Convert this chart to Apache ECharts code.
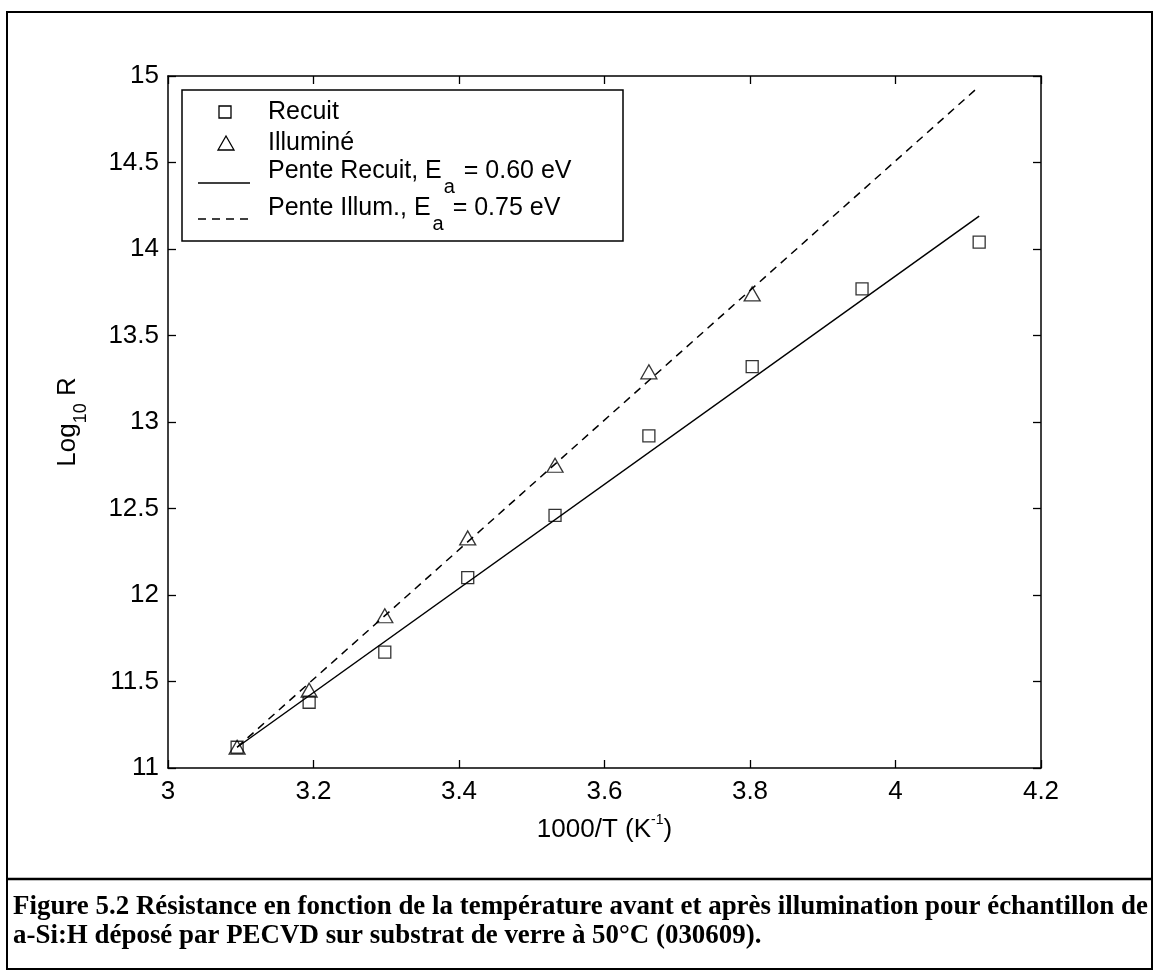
<!DOCTYPE html>
<html>
<head>
<meta charset="utf-8">
<script src="https://cdn.jsdelivr.net/npm/echarts@6/dist/echarts.min.js"></script>
<style>
html,body{margin:0;padding:0;background:#fff;}
#chart{width:1154px;height:971px;}
</style>
</head>
<body>
<div id="chart"></div>
<script>
// ---- data ----
const xRecuit = [3.095, 3.194, 3.298, 3.412, 3.532, 3.661, 3.803, 3.954, 4.115];
const yRecuit = [11.12, 11.38, 11.67, 12.10, 12.46, 12.92, 13.32, 13.77, 14.04];
const xIllum  = [3.095, 3.194, 3.298, 3.412, 3.532, 3.661, 3.803];
const yIllum  = [11.12, 11.45, 11.88, 12.33, 12.75, 13.29, 13.74];
const xFit = [3.095, 4.115];
const yFitRecuit = [11.12, 14.19];
const yFitIllum  = [11.12, 14.94];
const xTicks = [3, 3.2, 3.4, 3.6, 3.8, 4, 4.2];
const yTicks = [11, 11.5, 12, 12.5, 13, 13.5, 14, 14.5, 15];
const legendNames = ['Recuit', 'Illuminé', 'Pente Recuit, E', 'Pente Illum., E'];
const legendTails = ['', '', ' = 0.60 eV', ' = 0.75 eV'];
const captionLines = [
  'Figure 5.2 Résistance en fonction de la température avant et après illumination pour échantillon de',
  'a-Si:H déposé par PECVD sur substrat de verre à 50°C (030609).'
];

const zip = (xs, ys) => xs.map((x, i) => [x, ys[i]]);
const FONT = '"Liberation Sans", Arial, Helvetica, sans-serif';
const SERIF = '"Liberation Serif", "Times New Roman", serif';

const chart = echarts.init(document.getElementById('chart'), null, {renderer: 'canvas'});

// caption horizontal scale to fit the reference width
const CAP_FONT = 'bold 27px ' + SERIF;
const mctx = document.createElement('canvas').getContext('2d');
mctx.font = CAP_FONT;
const capW = mctx.measureText(captionLines[0]).width;
const capScale = 1135 / capW;

const axisCommon = {
  type: 'value',
  min: xTicks[0], max: xTicks[xTicks.length - 1], interval: 0.2,
  axisLine: {show: true, onZero: false, lineStyle: {color: '#000', width: 1.5}},
  axisTick: {show: true, inside: true, length: 8, lineStyle: {color: '#000', width: 1.3}},
  splitLine: {show: false}
};
const yCommon = {
  type: 'value',
  min: yTicks[0], max: yTicks[yTicks.length - 1], interval: 0.5,
  axisLine: {show: true, onZero: false, lineStyle: {color: '#000', width: 1.5}},
  axisTick: {show: true, inside: true, length: 8, lineStyle: {color: '#000', width: 1.3}},
  splitLine: {show: false}
};

const legendRows = [112, 143, 174, 211];

const graphics = [
  // outer frame
  {type: 'rect', shape: {x: 7, y: 12, width: 1145, height: 957},
   style: {fill: 'none', stroke: '#000', lineWidth: 2}, z: 100},
  {type: 'line', shape: {x1: 7, y1: 879, x2: 1152, y2: 879},
   style: {stroke: '#000', lineWidth: 2.5}, z: 100},
  // legend box
  {type: 'rect', shape: {x: 182, y: 90, width: 441, height: 151},
   style: {fill: '#fff', stroke: '#000', lineWidth: 1.5}, z: 50},
  {type: 'rect', shape: {x: 219, y: 106, width: 12, height: 12},
   style: {fill: 'none', stroke: '#000', lineWidth: 1.3}, z: 51},
  {type: 'polygon', shape: {points: [[226, 136], [218, 150], [234, 150]]},
   style: {fill: 'none', stroke: '#000', lineWidth: 1.3}, z: 51},
  {type: 'line', shape: {x1: 198, y1: 183, x2: 250, y2: 183},
   style: {stroke: '#000', lineWidth: 1.5}, z: 51},
  {type: 'line', shape: {x1: 198, y1: 219, x2: 250, y2: 219},
   style: {stroke: '#000', lineWidth: 1.5, lineDash: [8, 6]}, z: 51}
];
legendNames.forEach((name, i) => {
  if (!legendTails[i]) {
    graphics.push({type: 'text', x: 268, y: legendRows[i], z: 52,
      style: {text: name, font: '25px ' + FONT, fill: '#000', verticalAlign: 'middle', align: 'left'}});
  } else {
    graphics.push({type: 'text', x: 268, y: legendRows[i] - 15, z: 52,
      style: {text: '{m|' + name + '}{s|a}{m|' + legendTails[i] + '}',
        verticalAlign: 'top', align: 'left', fill: '#000',
        rich: {
          m: {fontSize: 25, fontFamily: FONT, lineHeight: 30, verticalAlign: 'top', fill: '#000'},
          s: {fontSize: 20, fontFamily: FONT, lineHeight: 20, verticalAlign: 'top', padding: [18, 2, 0, 2], fill: '#000'}
        }}});
  }
});
captionLines.forEach((line, i) => {
  graphics.push({type: 'text', x: 13, y: 907 + i * 29, scaleX: capScale, z: 100,
    style: {text: line, font: CAP_FONT, fill: '#000', verticalAlign: 'middle', align: 'left'}});
});

const option = {
  animation: false,
  backgroundColor: '#fff',
  grid: {left: 168, top: 76, width: 873, height: 692, containLabel: false},
  xAxis: [
    Object.assign({}, axisCommon, {
      position: 'bottom',
      axisLabel: {show: true, fontSize: 26, fontFamily: FONT, color: '#000', margin: 11,
        formatter: v => String(+v.toFixed(1))},
      name: '{m|1000/T (K}{sup|-1}{m|)}',
      nameLocation: 'middle', nameGap: 43,
      nameTextStyle: {rich: {
        m: {fontSize: 26, fontFamily: FONT, color: '#000', lineHeight: 30, verticalAlign: 'top', padding: [6, 0, 0, 0]},
        sup: {fontSize: 14, fontFamily: FONT, color: '#000', lineHeight: 14, verticalAlign: 'top', padding: [2, 0, 0, 0]}
      }}
    }),
    Object.assign({}, axisCommon, {position: 'top', axisLabel: {show: false}})
  ],
  yAxis: [
    Object.assign({}, yCommon, {
      position: 'left',
      axisLabel: {show: true, fontSize: 26, fontFamily: FONT, color: '#000', margin: 9,
        formatter: v => String(+v.toFixed(1))},
      name: '{m|Log}{sub|10}{m| R}',
      nameLocation: 'middle', nameGap: 83,
      nameTextStyle: {rich: {
        m: {fontSize: 26, fontFamily: FONT, color: '#000', lineHeight: 30, verticalAlign: 'top'},
        sub: {fontSize: 18, fontFamily: FONT, color: '#000', lineHeight: 18, verticalAlign: 'top', padding: [17, 0, 0, 0]}
      }}
    }),
    Object.assign({}, yCommon, {position: 'right', axisLabel: {show: false}})
  ],
  series: [
    {name: 'Pente Recuit', type: 'line', data: zip(xFit, yFitRecuit), symbol: 'none',
     lineStyle: {color: '#000', width: 1.5}, z: 2},
    {name: 'Pente Illum.', type: 'line', data: zip(xFit, yFitIllum), symbol: 'none',
     lineStyle: {color: '#000', width: 1.5, type: [8, 6]}, z: 2},
    {name: 'Recuit', type: 'scatter', data: zip(xRecuit, yRecuit), symbol: 'rect', symbolSize: 12,
     itemStyle: {color: 'rgba(0,0,0,0)', borderColor: '#000', borderWidth: 1.3}, z: 3},
    {name: 'Illuminé', type: 'scatter', data: zip(xIllum, yIllum), symbol: 'triangle', symbolSize: [16, 14],
     itemStyle: {color: 'rgba(0,0,0,0)', borderColor: '#000', borderWidth: 1.3}, z: 3}
  ],
  graphic: graphics
};
chart.setOption(option);
</script>
</body>
</html>
